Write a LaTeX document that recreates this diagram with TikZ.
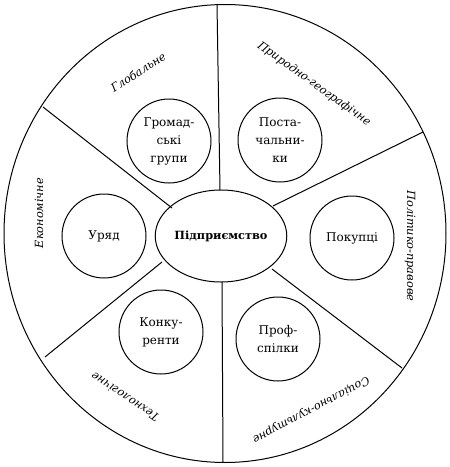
\documentclass[tikz,border=0pt]{standalone}
\usepackage{fontspec}
\setmainfont{DejaVu Serif}
\usetikzlibrary{shapes.geometric}
\begin{document}
\begin{tikzpicture}[x=1pt,y=-1pt,
  line width=1pt,
  actor/.style={draw,circle,minimum size=84pt,inner sep=0pt,align=center,
     font=\fontsize{12}{18}\selectfont},
  sector/.style={font=\fontsize{11.3}{13}\selectfont\itshape},
  sep/.style={line width=1pt}]
\useasboundingbox (0,0) rectangle (450,467);
\fill[white] (0,0) rectangle (450,467);
% outer ring
\node[draw,ellipse,minimum width=442pt,minimum height=458pt,inner sep=0pt,line width=1pt] (ring) at (225,233.5) {};
% center
\node[draw,ellipse,minimum width=130pt,minimum height=92pt,inner sep=0pt,
      font=\fontsize{11.3}{13}\selectfont\bfseries] (core) at (221,236) {Підприємство};
% separators: coordinates on the outer ring and on the core
\coordinate (o1) at (217,4);   \coordinate (c1) at (220,190);
\coordinate (o2) at (423,132); \coordinate (c2) at (273,206);
\coordinate (o3) at (402,368); \coordinate (c3) at (272,269);
\coordinate (o4) at (223,462); \coordinate (c4) at (222,282);
\coordinate (o5) at (45,357);  \coordinate (c5) at (162,262);
\coordinate (o6) at (43,107);  \coordinate (c6) at (172,208);
\foreach \i in {1,...,6} \draw[sep] (c\i) -- (o\i);
% inner actors
\node[actor] (gr) at (169,141) {Громад-\\ські\\групи};
\node[actor] (po) at (280,140) {Поста-\\чальни-\\ки};
\node[actor] (ur) at (104,236) {Уряд};
\node[actor] (pk) at (352,238) {Покупці};
\node[actor] (ko) at (161,332) {Конку-\\ренти};
\node[actor] (pr) at (278,339) {Проф-\\спілки};
% sector labels
\node[sector,rotate=33] (lg) at (138,72) {Глобальне};
\node[sector,rotate=-35.5] (lp) at (314,84) {Природно-географічне};
\node[sector,rotate=-90] (lpp) at (410,246) {Політико-правове};
\node[sector,rotate=208] (ls) at (311,410) {Соціально-культурне};
\node[sector,rotate=146] (lt) at (125,397) {Технологічне};
\node[sector,rotate=90] (le) at (39,213) {Економічне};
\end{tikzpicture}
\end{document}
